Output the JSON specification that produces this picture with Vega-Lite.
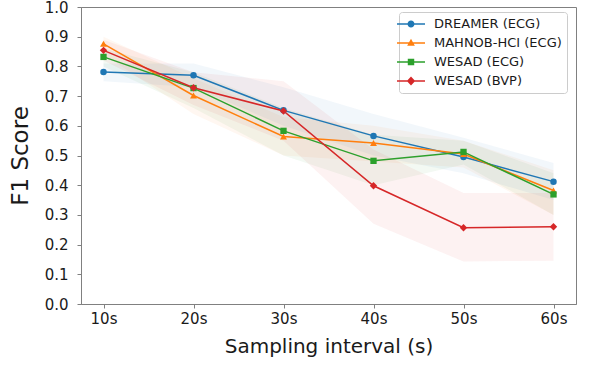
{
  "$schema": "https://vega.github.io/schema/vega-lite/v6.json",
  "autosize": "none",
  "width": 495,
  "height": 297,
  "padding": {"left": 81, "top": 7, "right": 22, "bottom": 62},
  "background": "white",
  "config": {
    "font": "DejaVu Sans",
    "view": {"stroke": "#808080", "strokeWidth": 1},
    "axis": {
      "domainColor": "#808080",
      "tickColor": "#808080",
      "labelColor": "#1a1a1a",
      "titleColor": "#1a1a1a",
      "labelFont": "DejaVu Sans",
      "titleFont": "DejaVu Sans",
      "titleFontWeight": "normal",
      "grid": false,
      "tickSize": 4,
      "labelFontSize": 15,
      "labelOverlap": false
    }
  },
  "data": {
    "values": [
      {"interval": 10, "dataset": "DREAMER (ECG)", "f1": 0.781, "lo": 0.75, "hi": 0.81},
      {"interval": 20, "dataset": "DREAMER (ECG)", "f1": 0.770, "lo": 0.73, "hi": 0.81},
      {"interval": 30, "dataset": "DREAMER (ECG)", "f1": 0.652, "lo": 0.60, "hi": 0.73},
      {"interval": 40, "dataset": "DREAMER (ECG)", "f1": 0.566, "lo": 0.50, "hi": 0.64},
      {"interval": 50, "dataset": "DREAMER (ECG)", "f1": 0.495, "lo": 0.44, "hi": 0.56},
      {"interval": 60, "dataset": "DREAMER (ECG)", "f1": 0.412, "lo": 0.35, "hi": 0.475},
      {"interval": 10, "dataset": "MAHNOB-HCI (ECG)", "f1": 0.876, "lo": 0.84, "hi": 0.90},
      {"interval": 20, "dataset": "MAHNOB-HCI (ECG)", "f1": 0.702, "lo": 0.64, "hi": 0.76},
      {"interval": 30, "dataset": "MAHNOB-HCI (ECG)", "f1": 0.564, "lo": 0.50, "hi": 0.63},
      {"interval": 40, "dataset": "MAHNOB-HCI (ECG)", "f1": 0.542, "lo": 0.48, "hi": 0.60},
      {"interval": 50, "dataset": "MAHNOB-HCI (ECG)", "f1": 0.505, "lo": 0.46, "hi": 0.55},
      {"interval": 60, "dataset": "MAHNOB-HCI (ECG)", "f1": 0.382, "lo": 0.30, "hi": 0.45},
      {"interval": 10, "dataset": "WESAD (ECG)", "f1": 0.832, "lo": 0.80, "hi": 0.86},
      {"interval": 20, "dataset": "WESAD (ECG)", "f1": 0.727, "lo": 0.66, "hi": 0.78},
      {"interval": 30, "dataset": "WESAD (ECG)", "f1": 0.583, "lo": 0.50, "hi": 0.66},
      {"interval": 40, "dataset": "WESAD (ECG)", "f1": 0.482, "lo": 0.40, "hi": 0.57},
      {"interval": 50, "dataset": "WESAD (ECG)", "f1": 0.512, "lo": 0.47, "hi": 0.55},
      {"interval": 60, "dataset": "WESAD (ECG)", "f1": 0.369, "lo": 0.30, "hi": 0.44},
      {"interval": 10, "dataset": "WESAD (BVP)", "f1": 0.854, "lo": 0.82, "hi": 0.89},
      {"interval": 20, "dataset": "WESAD (BVP)", "f1": 0.728, "lo": 0.67, "hi": 0.78},
      {"interval": 30, "dataset": "WESAD (BVP)", "f1": 0.650, "lo": 0.55, "hi": 0.75},
      {"interval": 40, "dataset": "WESAD (BVP)", "f1": 0.398, "lo": 0.27, "hi": 0.52},
      {"interval": 50, "dataset": "WESAD (BVP)", "f1": 0.257, "lo": 0.143, "hi": 0.374},
      {"interval": 60, "dataset": "WESAD (BVP)", "f1": 0.260, "lo": 0.146, "hi": 0.374}
    ]
  },
  "encoding": {
    "x": {
      "field": "interval",
      "type": "quantitative",
      "scale": {"domain": [7.5, 62.5], "nice": false, "zero": false},
      "axis": {
        "values": [10, 20, 30, 40, 50, 60],
        "labelExpr": "datum.value + 's'",
        "title": "Sampling interval (s)",
        "titleFontSize": 20,
        "labelPadding": 3,
        "titlePadding": 10
      }
    },
    "y": {
      "field": "f1",
      "type": "quantitative",
      "scale": {"domain": [0, 1], "nice": false},
      "axis": {
        "values": [0, 0.1, 0.2, 0.3, 0.4, 0.5, 0.6, 0.7, 0.8, 0.9, 1.0],
        "labelOverlap": false,
        "format": ".1f",
        "title": "F1 Score",
        "titleFontSize": 23,
        "labelPadding": 9,
        "titlePadding": 12
      }
    },
    "color": {
      "field": "dataset",
      "type": "nominal",
      "scale": {
        "domain": ["DREAMER (ECG)", "MAHNOB-HCI (ECG)", "WESAD (ECG)", "WESAD (BVP)"],
        "range": ["#1f77b4", "#ff7f0e", "#2ca02c", "#d62728"]
      },
      "legend": {
        "title": null,
        "orient": "none",
        "legendX": 318,
        "legendY": 5,
        "padding": 5,
        "rowPadding": 5,
        "symbolSize": 196,
        "symbolOpacity": 1,
        "symbolStrokeWidth": 0,
        "labelOffset": 16,
        "labelFontSize": 13,
        "labelFont": "DejaVu Sans",
        "labelColor": "#1a1a1a",
        "fillColor": "rgba(255,255,255,0.8)",
        "strokeColor": "#cccccc",
        "cornerRadius": 3,
        "encode": {
          "symbols": {
            "update": {
              "shape": {"signal": "datum.value === 'DREAMER (ECG)' ? 'M-2,-0.11H2V0.11H-2Z M0.5,0A0.5,0.5,0,1,1,-0.5,0A0.5,0.5,0,1,1,0.5,0Z' : datum.value === 'MAHNOB-HCI (ECG)' ? 'M-2,-0.11H2V0.11H-2Z M0,-0.6L0.55,0.4L-0.55,0.4Z' : datum.value === 'WESAD (ECG)' ? 'M-2,-0.11H2V0.11H-2Z M-0.46,-0.46H0.46V0.46H-0.46Z' : 'M-2,-0.11H2V0.11H-2Z M0,-0.65L0.6,0L0,0.65L-0.6,0Z'"},
              "fill": {"scale": "color", "field": "value"},
              "strokeWidth": {"value": 0},
              "opacity": {"value": 1},
              "fillOpacity": {"value": 1},
              "size": {"value": 196}
            }
          }
        }
      }
    }
  },
  "layer": [
    {
      "mark": {"type": "area", "opacity": 0.06},
      "encoding": {
        "y": {
          "field": "lo",
          "type": "quantitative",
          "scale": {"domain": [0, 1], "nice": false},
          "axis": {
            "values": [0, 0.1, 0.2, 0.3, 0.4, 0.5, 0.6, 0.7, 0.8, 0.9, 1.0],
            "labelOverlap": false,
            "format": ".1f",
            "title": "F1 Score",
            "titleFontSize": 23,
            "labelPadding": 9,
            "titlePadding": 12
          }
        },
        "y2": {"field": "hi"}
      }
    },
    {
      "mark": {"type": "line", "strokeWidth": 1.5}
    },
    {
      "transform": [{"filter": "datum.dataset === 'DREAMER (ECG)'"}],
      "mark": {"type": "point", "shape": "circle", "filled": true, "opacity": 1, "size": 42}
    },
    {
      "transform": [{"filter": "datum.dataset === 'MAHNOB-HCI (ECG)'"}],
      "mark": {"type": "point", "shape": "triangle-up", "filled": true, "opacity": 1, "size": 48}
    },
    {
      "transform": [{"filter": "datum.dataset === 'WESAD (ECG)'"}],
      "mark": {"type": "point", "shape": "square", "filled": true, "opacity": 1, "size": 40}
    },
    {
      "transform": [{"filter": "datum.dataset === 'WESAD (BVP)'"}],
      "mark": {"type": "point", "shape": "diamond", "filled": true, "opacity": 1, "size": 55}
    }
  ]
}
